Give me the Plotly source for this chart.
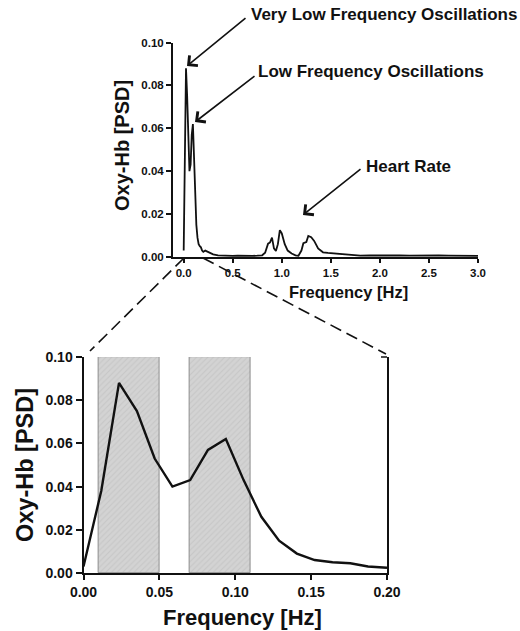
import plotly.graph_objects as go

# ---- data ----
# zoomed panel (0 - 0.2 Hz)
lf_freq = [0.0, 0.0117, 0.0234, 0.0352, 0.0469, 0.0586, 0.0703, 0.0820, 0.0938,
           0.1055, 0.1172, 0.1289, 0.1406, 0.1523, 0.1641, 0.1758, 0.1875, 0.2000]
lf_psd = [0.003, 0.038, 0.088, 0.075, 0.053, 0.040, 0.043, 0.057, 0.062,
          0.043, 0.026, 0.015, 0.009, 0.006, 0.005, 0.0045, 0.003, 0.0024]

# rest of the spectrum (0.2 - 3 Hz)
hf_freq = [0.22, 0.25, 0.30, 0.35, 0.40, 0.45, 0.50, 0.55, 0.60, 0.65, 0.70, 0.75,
           0.80, 0.83, 0.86, 0.88, 0.90, 0.92, 0.94, 0.96, 0.98, 1.00, 1.03, 1.06,
           1.10, 1.14, 1.17, 1.20, 1.22, 1.25, 1.27, 1.30, 1.33, 1.37, 1.42, 1.47,
           1.52, 1.57, 1.62, 1.67, 1.72, 1.80, 1.90, 2.00, 2.10, 2.20, 2.30, 2.40,
           2.50, 2.60, 2.70, 2.80, 2.90, 3.00]
hf_psd = [0.0030, 0.0022, 0.0012, 0.0008, 0.0006, 0.0007, 0.0005, 0.0006, 0.0005, 0.0006, 0.0005, 0.0006,
          0.0008, 0.0020, 0.0062, 0.0068, 0.0090, 0.0040, 0.0028, 0.0060, 0.0125, 0.0110, 0.0060, 0.0030,
          0.0016, 0.0008, 0.0006, 0.0030, 0.0064, 0.0070, 0.0098, 0.0092, 0.0075, 0.0040, 0.0022, 0.0019,
          0.0017, 0.0015, 0.0013, 0.0009, 0.0007, 0.0006, 0.0007, 0.0008, 0.0006, 0.0007, 0.0006, 0.0007,
          0.0006, 0.0007, 0.0006, 0.0005, 0.0006, 0.0005]

top_freq = lf_freq + hf_freq
top_psd = lf_psd + hf_psd

vlf_band = [0.01, 0.05]
lf_band = [0.07, 0.11]
band_top = 0.10

top_xticks = [0.0, 0.5, 1.0, 1.5, 2.0, 2.5, 3.0]
y_ticks = [0.00, 0.02, 0.04, 0.06, 0.08, 0.10]
bot_xticks = [0.00, 0.05, 0.10, 0.15, 0.20]

labels = {
    "vlf": "Very Low Frequency Oscillations",
    "lf": "Low Frequency Oscillations",
    "hr": "Heart Rate",
    "x": "Frequency [Hz]",
    "y": "Oxy-Hb [PSD]",
}

# ---- layout helpers (pixel -> paper) ----
W, H = 520, 631
def px(x):
    return x / W
def py(y):
    return 1 - y / H

FONT = "Liberation Sans, Arial, sans-serif"
INK = "#111111"

fig = go.Figure()

# shaded bands in zoomed panel
bands = [vlf_band, lf_band]
fig.add_trace(go.Bar(
    x=[(b[0] + b[1]) / 2 for b in bands],
    y=[band_top for _ in bands],
    width=[b[1] - b[0] for b in bands],
    marker=dict(color="#d3d3d3",
                line=dict(color="#7a7a7a", width=0.8),
                pattern=dict(shape="/", fgcolor="#b8b8b8", bgcolor="#d3d3d3", size=4, solidity=0.25)),
    xaxis="x2", yaxis="y2", hoverinfo="skip", showlegend=False,
))

fig.add_trace(go.Scatter(x=top_freq, y=top_psd, mode="lines",
                         line=dict(color=INK, width=1.8), xaxis="x", yaxis="y",
                         showlegend=False))
fig.add_trace(go.Scatter(x=lf_freq, y=lf_psd, mode="lines",
                         line=dict(color=INK, width=2.4), xaxis="x2", yaxis="y2",
                         showlegend=False))

# axes pixel geometry
T_L, T_R, T_T, T_B = 173, 478, 42.5, 257
B_L, B_R, B_T, B_B = 83.5, 387, 357, 573
x0_px = 183.7  # 0 Hz on top axis
ppHz = (T_R - x0_px) / 3.0

axis_common = dict(showgrid=False, zeroline=False, showline=True, linecolor=INK,
                   ticks="outside", tickcolor=INK, automargin=False)

fig.update_layout(
    width=W, height=H, margin=dict(l=0, r=0, t=0, b=0, pad=0, autoexpand=False),
    paper_bgcolor="white", plot_bgcolor="white",
    font=dict(family=FONT, color=INK),
    bargap=0,
    xaxis=dict(domain=[px(T_L), px(T_R)], range=[-(x0_px - T_L) / ppHz, 3.0],
               tickvals=top_xticks, tickformat=".1f", ticklen=4, tickwidth=1.5, linewidth=2,
               tickfont=dict(size=11.5, weight="bold"), anchor="y", **axis_common),
    yaxis=dict(domain=[py(T_B), py(T_T)], range=[0, 0.1],
               tickvals=y_ticks, tickformat=".2f", ticklen=5, tickwidth=1.5, linewidth=2,
               tickfont=dict(size=11.5, weight="bold"), anchor="x", **axis_common),
    xaxis2=dict(domain=[px(B_L), px(B_R)], range=[0, 0.2],
                tickvals=bot_xticks, tickformat=".2f", ticklen=5, tickwidth=1.5, linewidth=2,
                tickfont=dict(size=14, weight="bold"), anchor="y2", **axis_common),
    yaxis2=dict(domain=[py(B_B), py(B_T)], range=[0, 0.1],
                tickvals=y_ticks, tickformat=".2f", ticklen=6, tickwidth=1.5, linewidth=2,
                mirror=True,
                tickfont=dict(size=14, weight="bold"), anchor="x2", **axis_common),
)

# dashed zoom lines
dash = "12px,6px"
fig.add_shape(type="line", xref="paper", yref="paper",
              x0=px(184), y0=py(258), x1=px(90), y1=py(351),
              line=dict(color=INK, width=1.6, dash=dash))
fig.add_shape(type="line", xref="paper", yref="paper",
              x0=px(203), y0=py(258), x1=px(386), y1=py(354),
              line=dict(color=INK, width=1.6, dash=dash))
fig.add_shape(type="line", xref="paper", yref="paper",
              x0=px(381), y0=py(B_T), x1=px(B_R), y1=py(B_T),
              line=dict(color=INK, width=1.5))

# text annotations
def txt(t, x, y, size, angle=0):
    fig.add_annotation(text=t, xref="paper", yref="paper", x=px(x), y=py(y),
                       xanchor="center", yanchor="middle", showarrow=False,
                       textangle=angle, font=dict(size=size, weight="bold", color=INK, family=FONT))

txt(labels["vlf"], 383.5, 15, 17)
txt(labels["lf"], 370.5, 72, 17)
txt(labels["hr"], 408, 166, 17)
txt(labels["x"], 348, 292, 16.5)
txt(labels["y"], 122, 146, 20, -90)
txt(labels["x"], 242, 617, 22)
txt(labels["y"], 25, 465, 23.5, -90)

# arrows (tip, tail) in pixels
def arrow(tip, tail):
    fig.add_annotation(text="", xref="paper", yref="paper", x=px(tip[0]), y=py(tip[1]),
                       ax=tail[0] - tip[0], ay=tail[1] - tip[1], axref="pixel", ayref="pixel",
                       showarrow=True, arrowhead=4, arrowsize=1.6, arrowwidth=1.6, arrowcolor=INK)

arrow((187, 66), (247, 17))
arrow((195, 122), (256, 75))
arrow((303, 215), (362, 168))

fig.write_html("out.html")
